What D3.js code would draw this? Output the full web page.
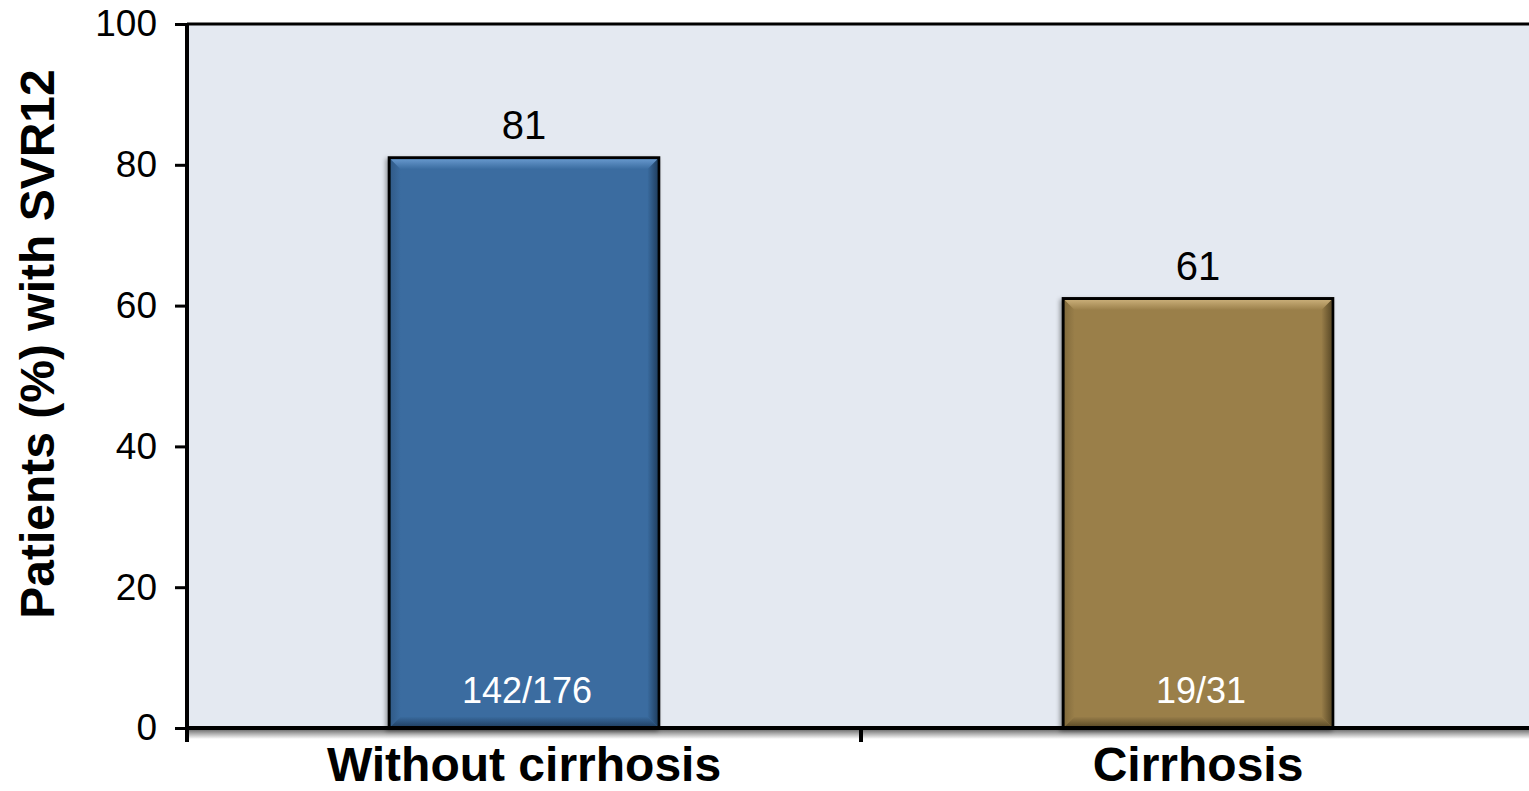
<!DOCTYPE html>
<html>
<head>
<meta charset="utf-8">
<script src="https://cdn.jsdelivr.net/npm/d3@7"></script>
<style>
  body { margin: 0; background: #fff; }
  svg { display: block; font-family: "Liberation Sans", Arial, sans-serif; }
</style>
</head>
<body>
<svg id="chart" width="1529" height="791"></svg>
<script>
// data
var categories = ["Without cirrhosis", "Cirrhosis"];
var values = [81, 61];
var counts = ["142/176", "19/31"];
var yTicks = [0, 20, 40, 60, 80, 100];
var barColors = ["#3a6ca0", "#9a7f4a"];
var lightColors = ["#6a9bd0", "#cdb27c"];
var darkColors = ["#1f3d5e", "#574725"];

var svg = d3.select("#chart");
var margin = {top: 24, right: -6, bottom: 63, left: 187};
var width = 1529 - margin.left - margin.right;
var height = 791 - margin.top - margin.bottom;

var x = d3.scaleBand()
  .domain(categories)
  .range([0, width])
  .paddingInner(0.6)
  .paddingOuter(0.3);

var y = d3.scaleLinear()
  .domain([0, 100])
  .range([height, 0]);

var defs = svg.append("defs");

// drop shadow for bars
var f = defs.append("filter").attr("id", "shadow")
  .attr("x", "-10%").attr("y", "-10%").attr("width", "120%").attr("height", "120%");
f.append("feDropShadow")
  .attr("dx", -2).attr("dy", 2).attr("stdDeviation", 2)
  .attr("flood-color", "#000").attr("flood-opacity", 0.35);

// shadow under the x axis
var ag = defs.append("linearGradient").attr("id", "axisShadow")
  .attr("x1", 0).attr("y1", 0).attr("x2", 0).attr("y2", 1);
ag.append("stop").attr("offset", "0%").attr("stop-color", "#777");
ag.append("stop").attr("offset", "100%").attr("stop-color", "#fff");

// bevel gradients
function grad(id, from, to, x1, y1, x2, y2){
  var g = defs.append("linearGradient").attr("id", id)
    .attr("x1", x1).attr("y1", y1).attr("x2", x2).attr("y2", y2);
  g.append("stop").attr("offset", "0%").attr("stop-color", from);
  g.append("stop").attr("offset", "100%").attr("stop-color", to);
}
categories.forEach(function(c, i){
  grad("top" + i, lightColors[i], barColors[i], 0, 0, 0, 1);
  grad("bot" + i, barColors[i], darkColors[i], 0, 0, 0, 1);
  grad("right" + i, barColors[i], darkColors[i], 0, 0, 1, 0);
  grad("left" + i, darkColors[i], barColors[i], 0, 0, 1, 0);
});

var chart = svg.append("g")
  .attr("transform", "translate(" + margin.left + "," + margin.top + ")");

// plot background
chart.append("rect")
  .attr("x", 0).attr("y", 0)
  .attr("width", width).attr("height", height)
  .attr("fill", "#e4e9f1");

// axis shadow
chart.append("rect")
  .attr("x", 2).attr("y", height + 2)
  .attr("width", width).attr("height", 9)
  .attr("fill", "url(#axisShadow)");

// bars
var bevel = 10;
var bars = chart.selectAll(".bar")
  .data(values)
  .enter()
  .append("g")
  .attr("class", "bar");

bars.append("rect")
  .attr("x", function(d, i){ return x(categories[i]); })
  .attr("y", function(d){ return y(d); })
  .attr("width", x.bandwidth())
  .attr("height", function(d){ return height - y(d); })
  .attr("fill", function(d, i){ return barColors[i]; })
  .attr("stroke", "#000")
  .attr("stroke-width", 3)
  .attr("filter", "url(#shadow)");

function side(d, i, which){
  var x0 = x(categories[i]) + 1.5, x1 = x0 + x.bandwidth() - 3;
  var y0 = y(d) + 1.5, y1 = height - 1.5;
  var b = bevel;
  if (which == "top") return [[x0, y0], [x1, y0], [x1 - b, y0 + b], [x0 + b, y0 + b]];
  if (which == "bot") return [[x0 + b, y1 - b], [x1 - b, y1 - b], [x1, y1], [x0, y1]];
  if (which == "right") return [[x1 - b, y0 + b], [x1, y0], [x1, y1], [x1 - b, y1 - b]];
  return [[x0, y0], [x0 + b, y0 + b], [x0 + b, y1 - b], [x0, y1]];
}

["left", "right", "bot", "top"].forEach(function(s){
  bars.append("polygon")
    .attr("points", function(d, i){ return side(d, i, s).join(" "); })
    .attr("fill", function(d, i){ return "url(#" + s + i + ")"; })
    .attr("opacity", s == "left" ? 0.35 : 0.9);
});

// value labels
bars.append("text")
  .attr("x", function(d, i){ return x(categories[i]) + x.bandwidth() / 2; })
  .attr("y", function(d){ return y(d) - 19; })
  .attr("text-anchor", "middle")
  .attr("font-size", 40)
  .attr("fill", "#000")
  .text(function(d){ return d; });

// count labels inside bars
bars.append("text")
  .attr("x", function(d, i){ return x(categories[i]) + x.bandwidth() / 2 + 3; })
  .attr("y", height - 25)
  .attr("text-anchor", "middle")
  .attr("font-size", 36)
  .attr("fill", "#fff")
  .text(function(d, i){ return counts[i]; });

// top frame line
chart.append("line")
  .attr("x1", 0).attr("x2", width)
  .attr("y1", 0).attr("y2", 0)
  .attr("stroke", "#000").attr("stroke-width", 3);

// axes
var yAxis = d3.axisLeft(y).tickValues(yTicks).tickSize(12).tickPadding(18);
var ya = chart.append("g").attr("class", "y axis").call(yAxis);
ya.select(".domain").attr("stroke-width", 4).attr("d", "M0," + (height + 14) + "V0");
ya.selectAll(".tick line").attr("stroke-width", 3);
ya.selectAll(".tick text").attr("font-size", 37).attr("fill", "#000")
  .attr("font-family", "Liberation Sans, Arial, sans-serif");

var xTickPos = d3.range(categories.length + 1).map(function(i){ return i * x.step(); });
var xa = chart.append("g").attr("class", "x axis")
  .attr("transform", "translate(0," + height + ")");
xa.append("line")
  .attr("x1", 0).attr("x2", width)
  .attr("stroke", "#000").attr("stroke-width", 4);
xa.selectAll(".xtick")
  .data(xTickPos)
  .enter()
  .append("line")
  .attr("x1", function(d){ return d; }).attr("x2", function(d){ return d; })
  .attr("y1", 0).attr("y2", 14)
  .attr("stroke", "#000").attr("stroke-width", 4);

xa.selectAll(".cat")
  .data(categories)
  .enter()
  .append("text")
  .attr("x", function(d){ return x(d) + x.bandwidth() / 2; })
  .attr("y", 53)
  .attr("text-anchor", "middle")
  .attr("font-size", 48)
  .attr("font-weight", "bold")
  .attr("fill", "#000")
  .text(function(d){ return d; });

// y axis title
svg.append("text")
  .attr("transform", "translate(54,344) rotate(-90)")
  .attr("text-anchor", "middle")
  .attr("font-size", 48)
  .attr("font-weight", "bold")
  .attr("fill", "#000")
  .text("Patients (%) with SVR12");
</script>
</body>
</html>
